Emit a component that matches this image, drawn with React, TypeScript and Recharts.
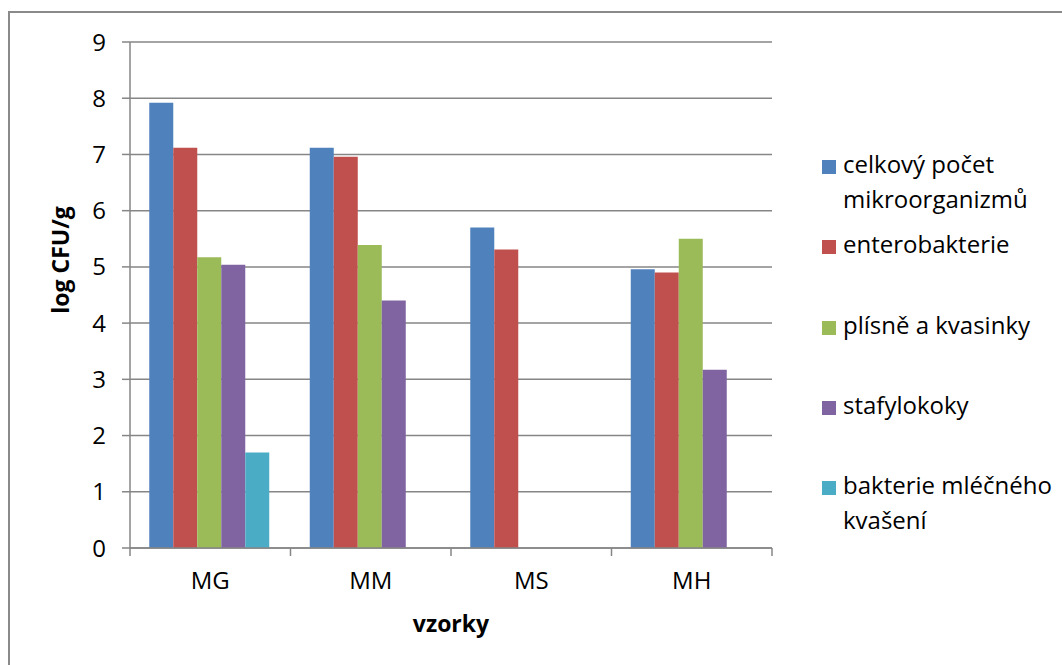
import React from "react";
import { BarChart, Bar, XAxis, YAxis, CartesianGrid } from "recharts";

// Samples (categories)
const samples = ["MG", "MM", "MS", "MH"];

// log CFU/g per microbial group (null = not detected)
const celkovyPocet = [7.92, 7.12, 5.7, 4.96];
const enterobakterie = [7.12, 6.96, 5.31, 4.9];
const plisneKvasinky = [5.17, 5.39, null, 5.5];
const stafylokoky = [5.04, 4.4, null, 3.17];
const bakterieMlecneho = [1.7, null, null, null];

const yTicks = [0, 1, 2, 3, 4, 5, 6, 7, 8, 9];

const seriesDefs = [
  { key: "celkovy", name: "celkový počet mikroorganizmů", color: "#4F81BD", values: celkovyPocet },
  { key: "entero", name: "enterobakterie", color: "#C0504D", values: enterobakterie },
  { key: "plisne", name: "plísně a kvasinky", color: "#9BBB59", values: plisneKvasinky },
  { key: "stafylo", name: "stafylokoky", color: "#8064A2", values: stafylokoky },
  { key: "mlecne", name: "bakterie mléčného kvašení", color: "#4BACC6", values: bakterieMlecneho },
];

const data = samples.map((s, i) => {
  const row: Record<string, string | number | null> = { sample: s };
  seriesDefs.forEach((d) => {
    row[d.key] = d.values[i];
  });
  return row;
});

const FONT = "'Open Sans', 'DejaVu Sans', sans-serif";
const GRID = "#868686";

// Category tick: label in the middle, tick marks on the band boundaries
const CategoryTick = (props: any) => {
  const { x, y, payload, index, visibleTicksCount, width } = props;
  const band = (width ?? 642) / (visibleTicksCount || 4);
  const left = x - band / 2;
  const right = x + band / 2;
  const last = index === (visibleTicksCount || 4) - 1;
  return (
    <g>
      <line x1={left} x2={left} y1={y} y2={y + 8} stroke={GRID} strokeWidth={1.5} />
      {last && <line x1={right} x2={right} y1={y} y2={y + 8} stroke={GRID} strokeWidth={1.5} />}
      <text x={x} y={y + 41} textAnchor="middle" fill="#000" fontSize={24} fontFamily={FONT}>
        {payload.value}
      </text>
    </g>
  );
};

export default function App() {
  return (
    <div
      style={{
        position: "absolute",
        left: 0,
        top: 0,
        width: 1062,
        height: 665,
        overflow: "hidden",
        background: "#fff",
        fontFamily: FONT,
      }}
    >
      <div
        style={{
          position: "absolute",
          left: 8,
          top: 11,
          width: 1200,
          height: 800,
          border: "2px solid #8a8a8a",
          boxSizing: "border-box",
        }}
      />
      <div style={{ position: "absolute", left: 0, top: 0 }}>
        <BarChart
          width={1062}
          height={665}
          data={data}
          margin={{ top: 42, right: 290, bottom: 77, left: 60 }}
          barCategoryGap="12%"
          barGap={0}
        >
          <CartesianGrid vertical={false} stroke={GRID} strokeWidth={1.5} />
          <XAxis
            dataKey="sample"
            height={40}
            axisLine={{ stroke: GRID, strokeWidth: 1.5 }}
            tickLine={false}
            tickSize={0}
            tickMargin={0}
            interval={0}
            tick={<CategoryTick />}
          />
          <YAxis
            width={70}
            domain={[0, 9]}
            ticks={yTicks}
            interval={0}
            allowDataOverflow
            axisLine={{ stroke: GRID, strokeWidth: 1.5 }}
            tickLine={{ stroke: GRID, strokeWidth: 1.5 }}
            tickSize={8}
            tickMargin={16}
            tick={{ fill: "#000", fontSize: 24, fontFamily: FONT }}
          />
          {seriesDefs.map((d) => (
            <Bar key={d.key} dataKey={d.key} name={d.name} fill={d.color} isAnimationActive={false} />
          ))}
          <text
            x={60}
            y={260}
            transform="rotate(-90 60 260)"
            textAnchor="middle"
            dominantBaseline="central"
            fontSize={23}
            fontWeight={700}
            fontFamily={FONT}
            fill="#000"
          >
            log CFU/g
          </text>
          <text x={451} y={632} textAnchor="middle" fontSize={23} fontWeight={700} fontFamily={FONT} fill="#000">
            vzorky
          </text>
        </BarChart>
      </div>
      {/* Legend */}
      <div style={{ position: "absolute", left: 822, top: 146, width: 240 }}>
        {seriesDefs.map((d) => (
          <div key={d.key} style={{ display: "flex", alignItems: "flex-start", height: 80.3 }}>
            <div style={{ width: 14, height: 14, background: d.color, marginTop: 14, flex: "none" }} />
            <div
              style={{
                marginLeft: 7,
                width: 225,
                fontSize: 24,
                lineHeight: "35px",
                color: "#000",
              }}
            >
              {d.name}
            </div>
          </div>
        ))}
      </div>
    </div>
  );
}
